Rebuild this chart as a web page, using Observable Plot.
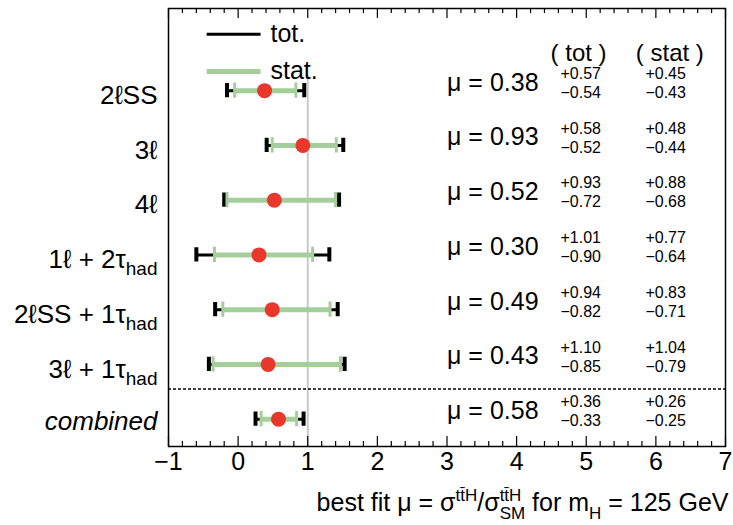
<!DOCTYPE html>
<html><head><meta charset="utf-8">
<script src="https://cdn.jsdelivr.net/npm/d3@7"></script>
<script src="https://cdn.jsdelivr.net/npm/@observablehq/plot@0.6"></script>
<style>
html,body{margin:0;padding:0;background:#fff;}
</style></head><body><div id="chart"></div>
<script>
// ---- data ----
const channels = ["2ℓSS", "3ℓ", "4ℓ", "1ℓ + 2τ|had", "2ℓSS + 1τ|had", "3ℓ + 1τ|had", "combined"];
const rowPos   = [6, 5, 4, 3, 2, 1, 0];
const mu       = [0.38, 0.93, 0.52, 0.30, 0.49, 0.43, 0.58];
const totUp    = [0.57, 0.58, 0.93, 1.01, 0.94, 1.10, 0.36];
const totDown  = [0.54, 0.52, 0.72, 0.90, 0.82, 0.85, 0.33];
const statUp   = [0.45, 0.48, 0.88, 0.77, 0.83, 1.04, 0.26];
const statDown = [0.43, 0.44, 0.68, 0.64, 0.71, 0.79, 0.25];
const xTicks   = [-1, 0, 1, 2, 3, 4, 5, 6, 7];
const legendLabels = ["tot.", "stat."];
const columnHeaders = ["( tot )", "( stat )"];
const smReference = [1];
const xLabel = "best fit μ = σ^{tt\u0304H}/σ^{tt\u0304H}_{SM} for m_{H} = 125 GeV";

// ---- layout (not data) ----
const FONT = "'Liberation Sans', Arial, Helvetica, sans-serif";
const GREEN = "#a4cf9b";
const RED = "#e8382b";
const colX = {mu: 3.0, tot: 4.63, stat: 5.85, totHead: 4.89, statHead: 6.2};
const xMinor = d3.range(-1, 7.0001, 0.2).map(v => +v.toFixed(1)).filter(v => !Number.isInteger(v));

const rows = channels.map((c, i) => ({
  c, y: rowPos[i], mu: mu[i],
  tLo: mu[i] - totDown[i], tHi: mu[i] + totUp[i],
  sLo: mu[i] - statDown[i], sHi: mu[i] + statUp[i],
  up: totUp[i], dn: totDown[i], sup: statUp[i], sdn: statDown[i]
}));
const normalRows = rows.filter(r => r.c !== "combined");
const italicRows = rows.filter(r => r.c === "combined");
const fmt = v => v.toFixed(2);
const capH = 0.13;

const plot = Plot.plot({
  width: 733, height: 525,
  marginLeft: 168, marginRight: 8, marginTop: 8, marginBottom: 79,
  x: {domain: [-1, 7]},
  y: {domain: [-0.5, 7.5], axis: null},
  style: {fontFamily: FONT, background: "white", color: "black", overflow: "visible"},
  marks: [
    // SM reference line
    Plot.ruleX(smReference, {y1: -0.5, y2: 6.27, stroke: "#c9c9c9", strokeWidth: 2}),
    // separator
    Plot.ruleY([0.55], {stroke: "black", strokeWidth: 1.3, strokeDasharray: "3,2"}),
    // ticks (inward)
    Plot.ruleX(xTicks, {insetTop: 428, stroke: "black", strokeWidth: 1.2}),
    Plot.ruleX(xMinor, {insetTop: 433, stroke: "black", strokeWidth: 1.2}),
    Plot.ruleX(xTicks, {insetBottom: 428, stroke: "black", strokeWidth: 1.2}),
    Plot.ruleX(xMinor, {insetBottom: 433, stroke: "black", strokeWidth: 1.2}),
    Plot.axisX(xTicks, {tickSize: 0, tickPadding: 6, fontSize: 25, label: null,
      tickFormat: d => d < 0 ? "\u2212" + (-d) : String(d)}),
    Plot.frame({stroke: "black", strokeWidth: 1.5}),
    // error bars
    Plot.ruleY(rows, {y: "y", x1: "tLo", x2: "tHi", stroke: "black", strokeWidth: 3}),
    Plot.ruleY(rows, {y: "y", x1: "sLo", x2: "sHi", stroke: GREEN, strokeWidth: 5}),
    Plot.ruleX(rows, {x: "tLo", y1: d => d.y - capH, y2: d => d.y + capH, stroke: "black", strokeWidth: 4}),
    Plot.ruleX(rows, {x: "tHi", y1: d => d.y - capH, y2: d => d.y + capH, stroke: "black", strokeWidth: 4}),
    Plot.ruleX(rows, {x: "sLo", y1: d => d.y - capH - 0.01, y2: d => d.y + capH + 0.01, stroke: GREEN, strokeWidth: 3}),
    Plot.ruleX(rows, {x: "sHi", y1: d => d.y - capH - 0.01, y2: d => d.y + capH + 0.01, stroke: GREEN, strokeWidth: 3}),
    Plot.dot(rows, {x: "mu", y: "y", r: 7.5, fill: RED, stroke: null}),
    // channel labels
    Plot.text(normalRows, {y: "y", text: "c", frameAnchor: "left", textAnchor: "end", dx: -11, dy: 5, fontSize: 26}),
    Plot.text(italicRows, {y: "y", text: "c", frameAnchor: "left", textAnchor: "end", dx: -11, dy: 3, fontSize: 26, fontStyle: "italic"}),
    // values
    Plot.text(rows, {x: colX.mu, y: "y", dy: -8, text: d => "μ = " + fmt(d.mu), textAnchor: "start", fontSize: 25}),
    Plot.text(rows, {x: colX.tot, y: "y", dy: -17, text: d => "+" + fmt(d.up), textAnchor: "start", fontSize: 16}),
    Plot.text(rows, {x: colX.tot, y: "y", dy: 2, text: d => "\u2212" + fmt(d.dn), textAnchor: "start", fontSize: 16}),
    Plot.text(rows, {x: colX.stat, y: "y", dy: -17, text: d => "+" + fmt(d.sup), textAnchor: "start", fontSize: 16}),
    Plot.text(rows, {x: colX.stat, y: "y", dy: 2, text: d => "\u2212" + fmt(d.sdn), textAnchor: "start", fontSize: 16}),
    Plot.text([columnHeaders[0]], {x: colX.totHead, y: 6.69, text: d => d, fontSize: 24}),
    Plot.text([columnHeaders[1]], {x: colX.statHead, y: 6.69, text: d => d, fontSize: 24}),
    // legend
    Plot.ruleY([7.03], {x1: -0.445, x2: 0.33, stroke: "black", strokeWidth: 3}),
    Plot.ruleY([6.35], {x1: -0.445, x2: 0.33, stroke: GREEN, strokeWidth: 5}),
    Plot.text([legendLabels[0]], {x: 0.464, y: 7.03, text: d => d, textAnchor: "start", fontSize: 25}),
    Plot.text([legendLabels[1]], {x: 0.464, y: 6.35, text: d => d, textAnchor: "start", fontSize: 25}),
    // x label
    Plot.text([xLabel], {frameAnchor: "bottom-right", text: d => d, textAnchor: "end", dx: 3, dy: 64, fontSize: 25})
  ]
});
document.getElementById("chart").appendChild(plot);

// ---- rich text (sub/superscripts) as real SVG tspans ----
const NS = "http://www.w3.org/2000/svg";
function richText(el, src, small, up, down) {
  el.textContent = "";
  const parts = src.split(/(\^\{[^}]*\}|_\{[^}]*\})/).filter(s => s !== "");
  let shift = 0, prevSup = null;
  for (const p of parts) {
    const t = document.createElementNS(NS, "tspan");
    let target = 0;
    if (p.startsWith("^{")) { t.textContent = p.slice(2, -1); target = -up; t.setAttribute("font-size", small); }
    else if (p.startsWith("_{")) { t.textContent = p.slice(2, -1); target = down; t.setAttribute("font-size", small); }
    else t.textContent = p;
    if (target - shift !== 0) t.setAttribute("dy", target - shift);
    shift = target;
    el.appendChild(t);
    if (p.startsWith("_{") && prevSup) t.setAttribute("dx", -prevSup.getComputedTextLength());
    prevSup = p.startsWith("^{") ? t : null;
  }
}
plot.querySelectorAll("text").forEach(el => {
  const s = el.textContent;
  if (s === xLabel) richText(el, s, 17, 10, 8);
  else if (s.includes("|")) {
    const [a, b] = s.split("|");
    richText(el, a + "_{" + b + "}", 19, 0, 7);
  }
});
</script></body></html>
